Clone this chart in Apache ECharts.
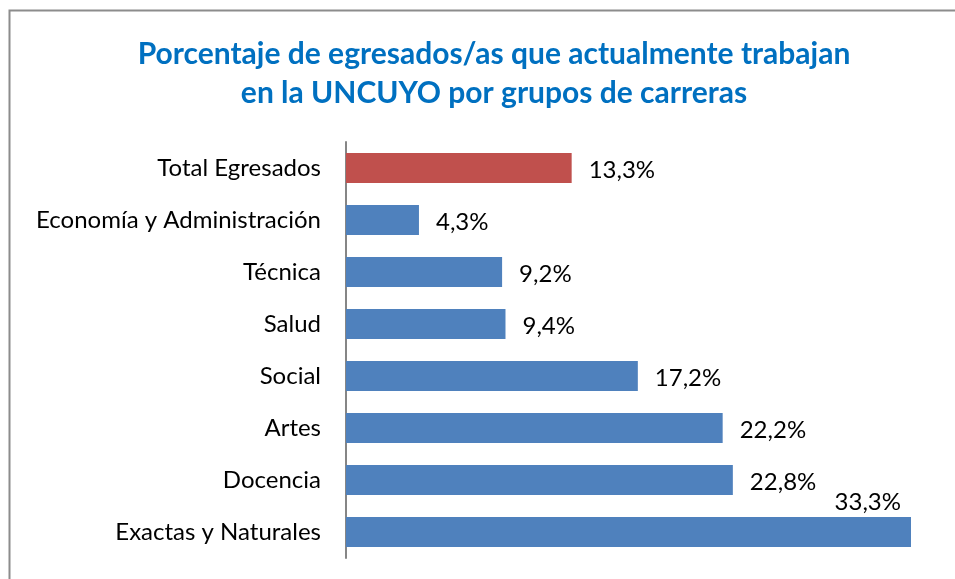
<!DOCTYPE html>
<html>
<head>
<meta charset="utf-8">
<script src="https://cdn.jsdelivr.net/npm/echarts@6/dist/echarts.min.js"></script>
<style>
  html, body { margin: 0; padding: 0; background: #fff; }
  #main { width: 955px; height: 579px; }
</style>
</head>
<body>
<div id="main"></div>
<script>
// categorias (de abajo hacia arriba, como en el eje)
var categorias = ['Exactas y Naturales', 'Docencia', 'Artes', 'Social', 'Salud', 'Técnica', 'Economía y Administración', 'Total Egresados'];
var valores = [33.3, 22.8, 22.2, 17.2, 9.4, 9.2, 4.3, 13.3];

var azul = '#4F81BD';
var rojo = '#C0504D';
var fuente = 'Lato, "Open Sans", sans-serif';

var chart = echarts.init(document.getElementById('main'));

var datos = valores.map(function (v, i) {
  var item = { value: v, itemStyle: { color: categorias[i] === 'Total Egresados' ? rojo : azul } };
  // la barra mas larga lleva la etiqueta encima
  if (i === 0) {
    item.label = {
      position: ['100%', 0],
      align: 'right',
      verticalAlign: 'bottom',
      offset: [-10, -3]
    };
  }
  return item;
});

var option = {
  animation: false,
  title: {
    text: 'Porcentaje de egresados/as que actualmente trabajan\nen la UNCUYO por grupos de carreras',
    left: 489,
    textAlign: 'center',
    top: 30,
    textStyle: {
      color: '#0070C0',
      fontFamily: fuente,
      fontWeight: 'bold',
      fontSize: 30,
      lineHeight: 39
    }
  },
  graphic: [{
    type: 'rect',
    shape: { x: 9.5, y: 10.5, width: 1000, height: 700 },
    style: { fill: 'none', stroke: '#8c8c8c', lineWidth: 2 },
    silent: true
  }],
  grid: {
    left: 346,
    right: 44,
    top: 142,
    bottom: 21,
    containLabel: false
  },
  xAxis: {
    type: 'value',
    min: 0,
    max: 33.3,
    show: false
  },
  yAxis: {
    type: 'category',
    data: categorias,
    axisLine: { show: true, lineStyle: { color: '#868686', width: 2 } },
    axisTick: { show: false },
    axisLabel: {
      color: '#000',
      fontFamily: fuente,
      fontSize: 24,
      margin: 25
    }
  },
  series: [{
    type: 'bar',
    data: datos,
    barCategoryGap: '42%',
    label: {
      show: true,
      position: 'right',
      distance: 17,
      offset: [0, 2],
      color: '#000',
      fontFamily: fuente,
      fontSize: 24,
      formatter: function (p) {
        return p.value.toFixed(1).replace('.', ',') + '%';
      }
    }
  }]
};

chart.setOption(option);
</script>
</body>
</html>
